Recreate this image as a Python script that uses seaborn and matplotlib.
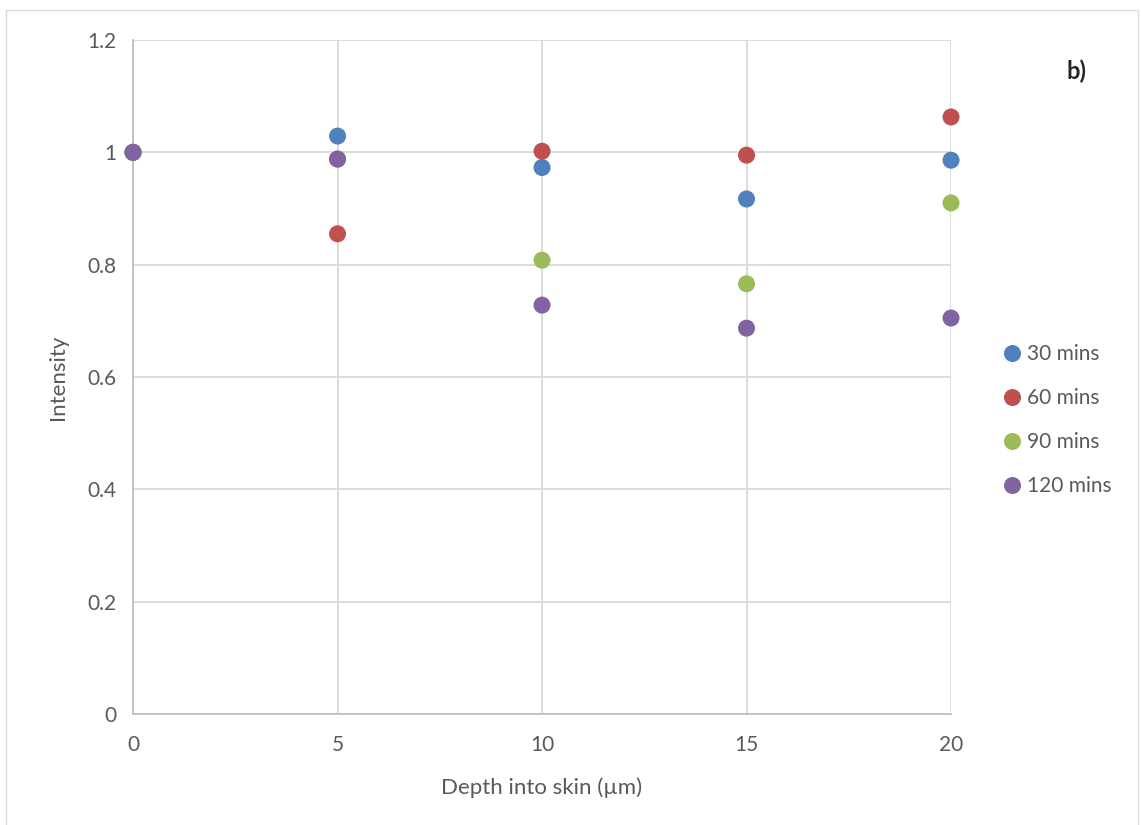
import pandas as pd
import seaborn as sns
import matplotlib.pyplot as plt
from matplotlib.patches import Rectangle

sns.set_style("white")
plt.rcParams['font.family'] = ['Lato', 'DejaVu Sans']

## DATA
depth = [0, 5, 10, 15, 20]
series = ['30 mins', '60 mins', '90 mins', '120 mins']
i30 = [1.0, 1.029, 0.973, 0.917, 0.986]
i60 = [1.0, 0.855, 1.002, 0.995, 1.063]
i90 = [1.0, 0.988, 0.808, 0.766, 0.910]
i120 = [1.0, 0.988, 0.728, 0.687, 0.705]
colours = ['#4F81BD', '#C0504D', '#9BBB59', '#8064A2']

df = pd.DataFrame({
    'depth': depth * 4,
    'intensity': i30 + i60 + i90 + i120,
    'series': sum([[s] * len(depth) for s in series], []),
})

fig = plt.figure(figsize=(11.41, 8.25), dpi=100)
ax = fig.add_axes([0.1166, 0.1345, 0.8335 - 0.1166, 0.9515 - 0.1345])
fig.patches.append(Rectangle((6 / 1141, -0.01), 1132 / 1141, 1 - 10 / 825 + 0.01,
                             transform=fig.transFigure, fill=False,
                             edgecolor='#D9D9D9', lw=1))

sns.scatterplot(data=df, x='depth', y='intensity', hue='series',
                palette=colours, s=150, edgecolor='none', ax=ax, zorder=3,
                clip_on=False, legend=True)

ax.set_xlim(0, 20)
ax.set_ylim(0, 1.2)
ax.set_xticks(depth)
ax.set_yticks([0, 0.2, 0.4, 0.6, 0.8, 1, 1.2])
ax.set_yticklabels(['0', '0.2', '0.4', '0.6', '0.8', '1', '1.2'])
ax.grid(True, color='#D9D9D9', lw=1.3)
ax.set_axisbelow(True)
for side in ['top', 'right']:
    ax.spines[side].set_visible(False)
for side in ['left', 'bottom']:
    ax.spines[side].set_color('#BFBFBF')
    ax.spines[side].set_linewidth(1.3)
ax.tick_params(axis='both', length=0, labelsize=15, labelcolor='#595959', pad=12)
ax.tick_params(axis='x', pad=15)
ax.set_xlabel('Depth into skin (µm)', fontsize=16, color='#595959', labelpad=16)
ax.set_ylabel('Intensity', fontsize=16, color='#595959', labelpad=14)

handles, labels = ax.get_legend_handles_labels()
ax.get_legend().remove()
fig.legend(handles, labels, loc='center left', bbox_to_anchor=(1002 / 1141, 1 - 420 / 825),
           frameon=False, fontsize=15, labelcolor='#595959', handletextpad=0.2,
           handlelength=1.0, borderpad=0, borderaxespad=0, labelspacing=1.15,
           markerscale=1.0)

fig.text(1077 / 1141, 1 - 71 / 825, 'b)', fontsize=17, fontweight='bold',
         ha='center', va='center')

fig.savefig('out.png', dpi=100)
